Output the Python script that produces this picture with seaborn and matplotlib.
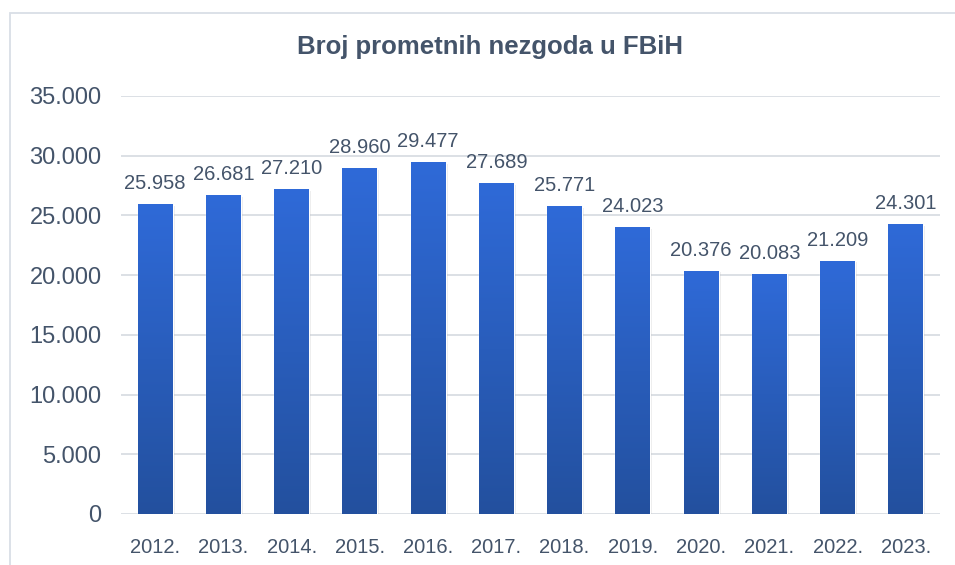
import numpy as np
import pandas as pd
import matplotlib
matplotlib.use("Agg")
import matplotlib.pyplot as plt
import seaborn as sns
from matplotlib.colors import LinearSegmentedColormap
from matplotlib.patches import Rectangle

years = ["2012.", "2013.", "2014.", "2015.", "2016.", "2017.", "2018.", "2019.",
         "2020.", "2021.", "2022.", "2023."]
accidents = [25958, 26681, 27210, 28960, 29477, 27689, 25771, 24023,
             20376, 20083, 21209, 24301]
title = "Broj prometnih nezgoda u FBiH"
yticks = [0, 5000, 10000, 15000, 20000, 25000, 30000, 35000]

df = pd.DataFrame({"year": years, "n": accidents})

sns.set_theme(style="white")
plt.rcParams['font.family'] = ['Liberation Sans', 'DejaVu Sans']

txt = "#44546A"
grid = "#D9DDE3"

fig = plt.figure(figsize=(9.55, 5.65), dpi=100)
ax = fig.add_axes([121/955, 1-514/565, (940-121)/955, (514-96)/565])

sns.barplot(data=df, x="year", y="n", ax=ax, color="#2E69D6", width=0.51,
            saturation=1, zorder=3)

ax.set_ylim(0, 35000)
ax.set_xlim(-0.5, len(years)-0.5)
ax.set_yticks(yticks)
fmt = lambda v: f"{int(v):,}".replace(",", ".")
ax.set_yticklabels([fmt(v) for v in yticks], color=txt, fontsize=17)
ax.tick_params(axis='y', length=0, pad=14)
ax.tick_params(axis='x', length=0, pad=17)
for lab in ax.get_xticklabels():
    lab.set_color(txt)
    lab.set_fontsize(14.5)
ax.set_xlabel("")
ax.set_ylabel("")
for s in ax.spines.values():
    s.set_visible(False)
ax.grid(axis='y', color=grid, linewidth=1.3, zorder=0)
ax.set_axisbelow(True)

# gradient fill on each bar
cmap = LinearSegmentedColormap.from_list("g", ["#23509E", "#2F6AD8"])
grad = np.linspace(0, 1, 256).reshape(-1, 1)
for p in list(ax.patches):
    x0 = p.get_x(); w = p.get_width(); h = p.get_height()
    sh = Rectangle((x0 + 0.03, -150), w, h, facecolor="#000000", alpha=0.08,
                   edgecolor="none", zorder=2)
    ax.add_patch(sh)
    im = ax.imshow(grad, cmap=cmap, origin="lower", aspect="auto",
                   extent=(x0, x0 + w, 0, h), zorder=4)
    im.set_clip_path(p)
ax.set_xlim(-0.5, len(years)-0.5)
ax.set_ylim(0, 35000)

for i, v in enumerate(accidents):
    ax.annotate(fmt(v), (i, v), xytext=(0, 8), textcoords="offset points",
                ha="center", va="bottom", color=txt, fontsize=14.5, zorder=5)

fig.text(490/955, 1-47/565, title, ha="center", va="center", color=txt,
         fontsize=18.5, fontweight="bold")

fig.patches.append(Rectangle((10/955, -0.01), 1.0, 1-13/565+0.01,
                             transform=fig.transFigure, fill=False,
                             edgecolor="#D9DEE6", linewidth=1.3))

fig.savefig("out.png", dpi=100, facecolor="white")
